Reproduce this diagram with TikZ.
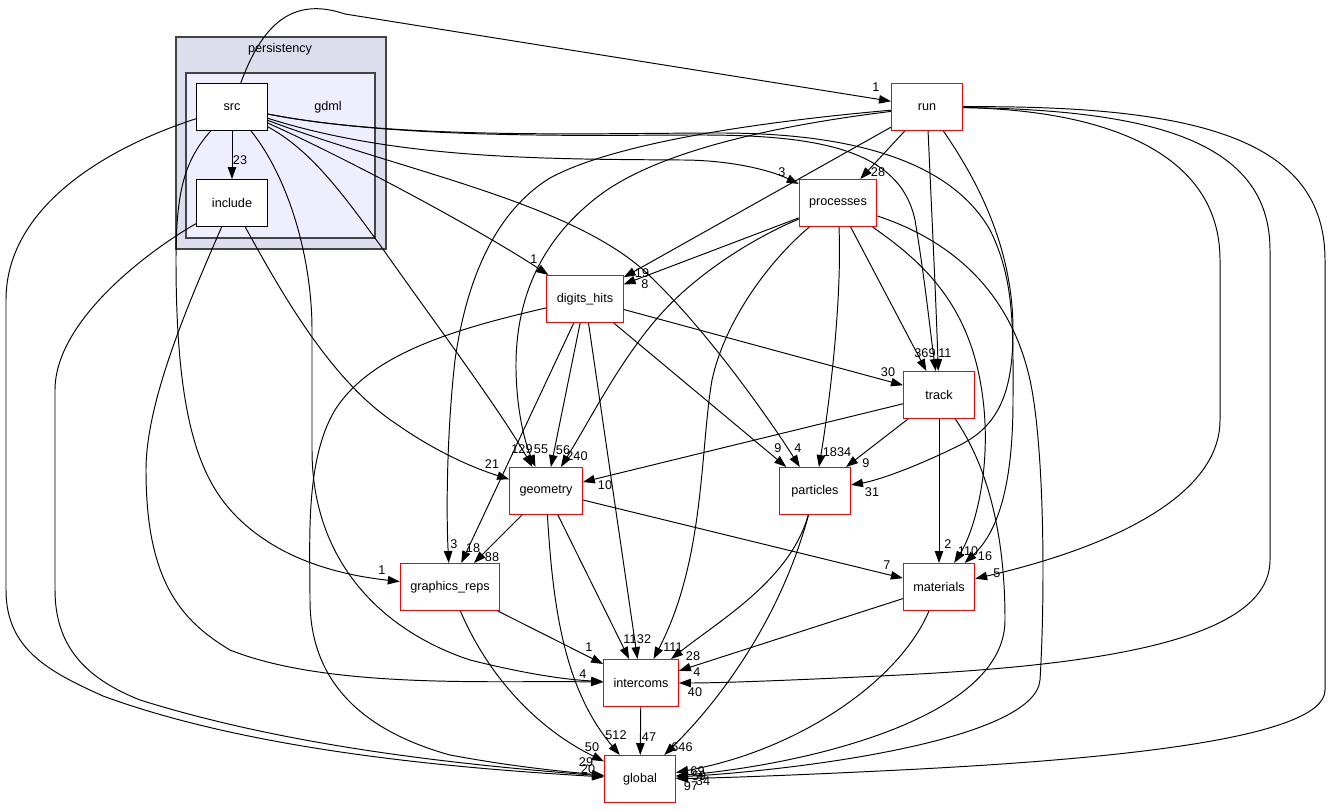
\documentclass[tikz,border=0pt]{standalone}
\usepackage{fontspec}
\setmainfont{Liberation Sans}
\usetikzlibrary{arrows.meta}
\definecolor{ddRed}{HTML}{FF0000}
\definecolor{ddOuter}{HTML}{DDDDEE}
\definecolor{ddInner}{HTML}{EEEEFF}
\definecolor{ddFrame}{HTML}{444444}
\tikzset{
  dd dir/.style={rectangle, draw=ddRed, fill=white, line width=0.6pt, minimum width=1.42cm, minimum height=0.94cm, inner xsep=0.2cm, inner ysep=0pt, font=\fontsize{7.2}{8.6}\selectfont},
  dd local/.style={dd dir, draw=black},
  dd edge/.style={draw=black, line width=0.55pt, -{Triangle[length=6.8pt,width=4.8pt]}},
  dd count/.style={font=\fontsize{7.2}{8}\selectfont, inner sep=0pt},
  dd outer/.style={draw=ddFrame, fill=ddOuter, line width=0.9pt},
  dd inner/.style={draw=ddFrame, fill=ddInner, line width=0.9pt},
  dd title/.style={font=\fontsize{7.2}{8.6}\selectfont},
}

\begin{document}
\begin{tikzpicture}[x=0.02cm, y=-0.02cm]
  \useasboundingbox (0,0) rectangle (1328,810);
  % ----- clusters: persistency / gdml -----
  \draw[dd outer] (176,37) rectangle (386,249);
  \node[dd title] (lblPersistency) at (280,49) {persistency};
  \draw[dd inner] (186,73) rectangle (375,238);
  \node[dd title] (lblGdml) at (328,107) {gdml};
  % ----- directories -----
  \node[dd local] (src) at (232,107) {src};
  \node[dd local] (include) at (232,203) {include};
  \node[dd dir] (run) at (927,107) {run};
  \node[dd dir] (processes) at (838,203) {processes};
  \node[dd dir] (digits) at (585,299) {digits\_hits};
  \node[dd dir] (track) at (939,395) {track};
  \node[dd dir] (geometry) at (546,491) {geometry};
  \node[dd dir] (particles) at (815,491) {particles};
  \node[dd dir] (graphics) at (450,587) {graphics\_reps};
  \node[dd dir] (materials) at (939,587) {materials};
  \node[dd dir] (intercoms) at (641,683) {intercoms};
  \node[dd dir] (global) at (640,779) {global};
  % ----- from src -----
  \draw[dd edge] (src) -- (include) node[dd count] at (240,160) {23};
  \draw[dd edge] (src) .. controls (262,25) and (292,-4) .. (345,14) -- (run) node[dd count] at (876,87) {1};
  \draw[dd edge] (src) .. controls (100,150) and (6,210) .. (6,300) -- (6,590) .. controls (6,650) and (50,672) .. (103,696) .. controls (250,750) and (450,768) .. (global) node[dd count] at (586,762) {29};
  \draw[dd edge] (src) .. controls (185,160) and (176,190) .. (176,260) .. controls (176,420) and (200,480) .. (237,517) .. controls (280,560) and (340,575) .. (graphics) node[dd count] at (382,570) {1};
  \draw[dd edge] (src) .. controls (290,180) and (312,260) .. (312,330) -- (312,450) .. controls (312,560) and (380,630) .. (470,660) .. controls (530,675) and (570,680) .. (intercoms);
  \draw[dd edge] (src) .. controls (310,150) and (340,190) .. (380,245) .. controls (440,330) and (500,410) .. (geometry) node[dd count] at (522,449) {129};
  \draw[dd edge] (src) .. controls (350,160) and (480,230) .. (digits) node[dd count] at (534,259) {1};
  \draw[dd edge] (src) .. controls (400,170) and (560,200) .. (640,267) .. controls (700,320) and (770,420) .. (particles) node[dd count] at (798,448) {4};
  \draw[dd edge] (src) .. controls (400,160) and (550,159) .. (681,160) .. controls (730,160) and (770,170) .. (processes) node[dd count] at (782,172) {3};
  \draw[dd edge] (src) .. controls (400,140) and (600,135) .. (700,135) .. controls (820,135) and (900,150) .. (915,220) .. controls (925,280) and (930,330) .. (track) node[dd count] at (942,353) {1};
  \draw[dd edge] (src) .. controls (400,140) and (600,133) .. (720,133) .. controls (850,133) and (950,160) .. (990,230) .. controls (1015,280) and (1013,330) .. (1013,400) .. controls (1013,480) and (1000,530) .. (materials) node[dd count] at (985,556) {16};
  % ----- from include -----
  \draw[dd edge] (include) .. controls (150,250) and (55,320) .. (55,390) -- (55,590) .. controls (55,650) and (90,680) .. (140,700) .. controls (300,750) and (480,766) .. (global) node[dd count] at (588,769) {20};
  \draw[dd edge] (include) .. controls (190,300) and (146,400) .. (146,470) .. controls (146,580) and (180,620) .. (230,650) .. controls (330,690) and (500,680) .. (intercoms) node[dd count] at (583,674) {4};
  \draw[dd edge] (include) .. controls (280,290) and (330,380) .. (395,423) .. controls (440,455) and (480,470) .. (geometry) node[dd count] at (492,464) {21};
  % ----- from run -----
  \draw[dd edge] (run) -- (processes) node[dd count] at (878,172) {28};
  \draw[dd edge] (run) -- (digits) node[dd count] at (642,273) {19};
  \draw[dd edge] (run) .. controls (780,125) and (660,150) .. (600,195) .. controls (540,240) and (515,300) .. (516,370) .. controls (517,420) and (528,450) .. (geometry) node[dd count] at (541,449) {55};
  \draw[dd edge] (run) .. controls (780,120) and (620,140) .. (550,178) .. controls (490,215) and (465,290) .. (455,360) .. controls (447,430) and (446,510) .. (graphics) node[dd count] at (454,544) {3};
  \draw[dd edge] (run) .. controls (932,220) and (936,300) .. (track) node[dd count] at (948,353) {1};
  \draw[dd edge] (run) .. controls (970,170) and (1013,240) .. (1013,330) .. controls (1013,390) and (1000,425) .. (960,445) .. controls (920,465) and (880,480) .. (particles) node[dd count] at (872,492) {31};
  \draw[dd edge] (run) .. controls (1100,110) and (1220,150) .. (1220,260) -- (1220,420) .. controls (1220,500) and (1100,550) .. (materials) node[dd count] at (997,573) {5};
  \draw[dd edge] (run) .. controls (1150,110) and (1270,140) .. (1270,250) -- (1270,560) .. controls (1270,640) and (1100,665) .. (900,675) .. controls (800,680) and (720,683) .. (intercoms) node[dd count] at (695,692) {40};
  \draw[dd edge] (run) .. controls (1200,105) and (1325,140) .. (1325,260) -- (1325,690) .. controls (1325,740) and (1100,760) .. (900,770) .. controls (800,775) and (720,778) .. (global) node[dd count] at (703,781) {34};
  % ----- from processes -----
  \draw[dd edge] (processes) -- (digits) node[dd count] at (645,284) {8};
  \draw[dd edge] (processes) .. controls (760,235) and (700,270) .. (660,315) .. controls (620,360) and (590,420) .. (geometry) node[dd count] at (577,456) {240};
  \draw[dd edge] (processes) .. controls (770,260) and (725,320) .. (712,380) .. controls (700,450) and (705,560) .. (intercoms) node[dd count] at (673,647) {111};
  \draw[dd edge] (processes) .. controls (842,300) and (830,400) .. (particles) node[dd count] at (837,452) {1834};
  \draw[dd edge] (processes) -- (track) node[dd count] at (925,353) {369};
  \draw[dd edge] (processes) .. controls (920,260) and (965,300) .. (980,380) .. controls (995,460) and (975,530) .. (materials) node[dd count] at (968,551) {110};
  \draw[dd edge] (processes) .. controls (950,240) and (1010,290) .. (1030,380) .. controls (1045,450) and (1045,600) .. (1040,680) .. controls (1035,740) and (800,770) .. (global) node[dd count] at (694,771) {169};
  % ----- from digits_hits -----
  \draw[dd edge] (digits) .. controls (450,330) and (370,355) .. (335,410) .. controls (305,460) and (310,540) .. (310,600) .. controls (310,680) and (360,730) .. (450,755) .. controls (520,768) and (570,772) .. (global);
  \draw[dd edge] (digits) -- (graphics) node[dd count] at (473,548) {18};
  \draw[dd edge] (digits) -- (geometry) node[dd count] at (563,450) {56};
  \draw[dd edge] (digits) -- (intercoms) node[dd count] at (644,639) {32};
  \draw[dd edge] (digits) -- (particles) node[dd count] at (778,448) {9};
  \draw[dd edge] (digits) -- (track) node[dd count] at (888,372) {30};
  % ----- from track -----
  \draw[dd edge] (track) -- (geometry) node[dd count] at (605,485) {10};
  \draw[dd edge] (track) -- (particles) node[dd count] at (866,463) {9};
  \draw[dd edge] (track) -- (materials) node[dd count] at (948,544) {2};
  \draw[dd edge] (track) .. controls (990,470) and (1005,540) .. (1005,620) .. controls (1005,720) and (800,765) .. (global) node[dd count] at (699,776) {59};
  % ----- from geometry -----
  \draw[dd edge] (geometry) -- (graphics) node[dd count] at (492,557) {88};
  \draw[dd edge] (geometry) -- (materials) node[dd count] at (887,565) {7};
  \draw[dd edge] (geometry) -- (intercoms) node[dd count] at (630,639) {11};
  \draw[dd edge] (geometry) .. controls (553,610) and (565,690) .. (global) node[dd count] at (616,735) {512};
  % ----- remaining -----
  \draw[dd edge] (graphics) -- (intercoms) node[dd count] at (589,647) {1};
  \draw[dd edge] (graphics) .. controls (490,680) and (540,730) .. (global) node[dd count] at (592,747) {50};
  \draw[dd edge] (particles) .. controls (790,580) and (720,620) .. (intercoms) node[dd count] at (693,656) {28};
  \draw[dd edge] (particles) .. controls (780,620) and (720,700) .. (global) node[dd count] at (682,747) {646};
  \draw[dd edge] (materials) -- (intercoms) node[dd count] at (697,672) {4};
  \draw[dd edge] (materials) .. controls (900,680) and (800,750) .. (global) node[dd count] at (691,786) {97};
  \draw[dd edge] (intercoms) -- (global) node[dd count] at (649,737) {47};
\end{tikzpicture}
\end{document}
